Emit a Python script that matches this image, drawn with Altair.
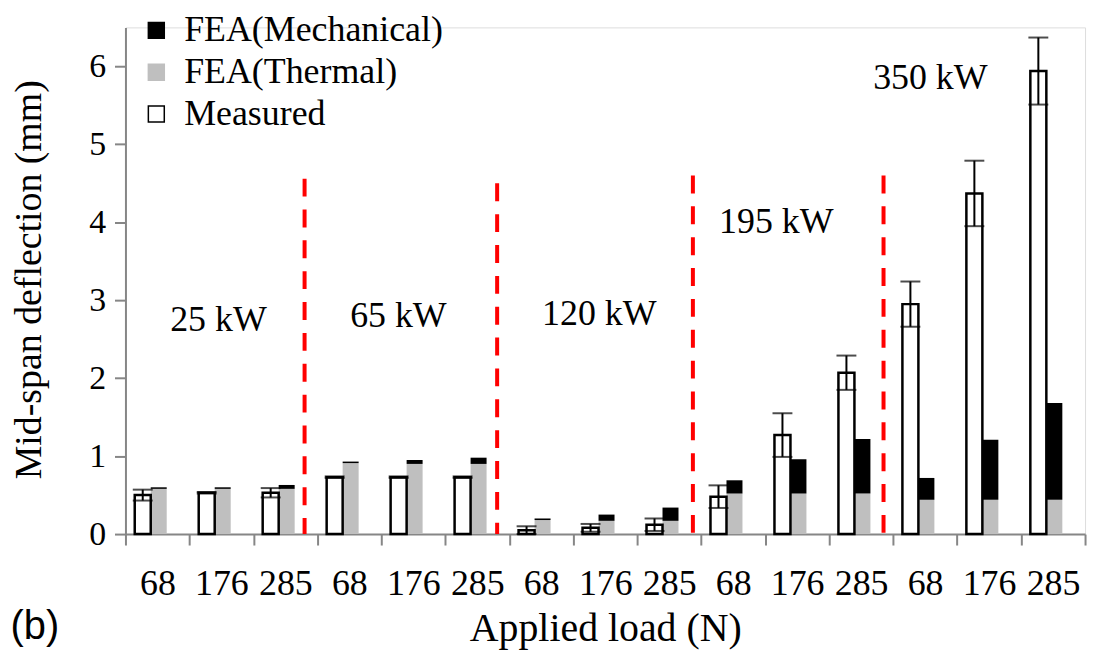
import altair as alt
import pandas as pd

powers = ["25 kW", "65 kW", "120 kW", "195 kW", "350 kW"]
loads = ["68", "176", "285"]
measured = [0.50, 0.53, 0.53, 0.73, 0.73, 0.73, 0.05, 0.08, 0.12, 0.48, 1.27, 2.07, 2.95, 4.37, 5.94]
measured_err = [0.07, 0.01, 0.06, 0.01, 0.01, 0.01, 0.05, 0.05, 0.08, 0.145, 0.28, 0.22, 0.29, 0.42, 0.43]
fea_thermal = [0.58, 0.58, 0.58, 0.91, 0.90, 0.90, 0.18, 0.17, 0.17, 0.52, 0.52, 0.52, 0.44, 0.44, 0.44]
fea_mech = [0.02, 0.02, 0.05, 0.02, 0.05, 0.08, 0.02, 0.08, 0.17, 0.17, 0.44, 0.70, 0.28, 0.77, 1.24]
divider_top = [4.56, 4.50, 4.60, 4.60]
label_y = [2.75, 2.80, 2.82, 4.0, 5.85]
label_dx = [-3, -15, -6, -21, -59]
series_names = ["FEA(Mechanical)", "FEA(Thermal)", "Measured"]

cats = [f"{p}|{l}" for p in powers for l in loads]

meas_df = pd.DataFrame({
    "cat": cats, "series": "Measured", "grp": "Measured", "value": measured,
    "lo": [m - e for m, e in zip(measured, measured_err)],
    "hi": [m + e for m, e in zip(measured, measured_err)],
})
rows = []
for c, t, m in zip(cats, fea_thermal, fea_mech):
    rows.append({"cat": c, "series": "FEA(Thermal)", "grp": "FEA", "value": t, "ord": 0})
    rows.append({"cat": c, "series": "FEA(Mechanical)", "grp": "FEA", "value": m, "ord": 1})
fea_df = pd.DataFrame(rows)
div_cats = [cats[2], cats[5], cats[8], cats[11]]
div_band = [0.80, 0.81, 0.87, 0.85]

SERIF = "Liberation Serif"
AX = "#868686"
x_scale = alt.Scale(domain=cats, paddingInner=0, paddingOuter=0)
x_axis = alt.Axis(tickBand="extent", labelAngle=0, labelExpr="split(datum.label, '|')[1]",
                  labelOverlap=False, labelFont=SERIF, labelFontSize=36, labelColor="black",
                  labelPadding=22, tickSize=11, tickColor=AX, tickWidth=2, domainColor=AX,
                  domainWidth=2, titleFont=SERIF, titleFontSize=40, titleFontWeight="normal",
                  titleColor="black", titleY=95, titleBaseline="middle")
y_scale = alt.Scale(domain=[0, 6.5], nice=False)
y_axis = alt.Axis(values=[0, 1, 2, 3, 4, 5, 6], grid=False, labelFont=SERIF, labelFontSize=34,
                  labelColor="black", labelPadding=9, tickSize=11, tickColor=AX, tickWidth=2,
                  domainColor=AX, domainWidth=2, titleFont=SERIF, titleFontSize=38,
                  titleFontWeight="normal", titleColor="black", titleX=-96, titleY=253,
                  titleAngle=-90, titleBaseline="middle", titleAlign="center", titleLimit=0)
XT = "Applied load (N)"
YT = "Mid-span deflection (mm)"


def X(band=None):
    if band is None:
        return alt.X("cat:N", sort=cats, scale=x_scale, axis=x_axis, title=XT)
    return alt.X("cat:N", sort=cats, scale=x_scale, axis=x_axis, title=XT, bandPosition=band)


def Y(field, **kw):
    return alt.Y(f"{field}:Q", scale=y_scale, axis=y_axis, title=YT, **kw)


off = alt.XOffset("grp:N", scale=alt.Scale(domain=["Measured", "FEA"], paddingInner=0,
                                            paddingOuter=1, align=0.29))
leg = alt.Legend(orient="none", legendX=13, legendY=-15, title=None, labelFont=SERIF,
                 labelFontSize=36, labelColor="black", symbolType="square", symbolSize=256,
                 symbolStrokeWidth=1.5, labelOffset=10, rowPadding=6, padding=0, labelLimit=0)
fill = alt.Fill("series:N", scale=alt.Scale(domain=series_names, range=["black", "#bfbfbf", "white"]), legend=leg)
stroke = alt.Stroke("series:N", scale=alt.Scale(domain=series_names, range=["black", "#bfbfbf", "black"]), legend=leg)

fea = alt.Chart(fea_df).mark_bar(strokeWidth=0).encode(
    x=X(), xOffset=off, y=Y("value", stack="zero"), fill=fill, stroke=stroke,
    order=alt.Order("ord:Q"))
meas = alt.Chart(meas_df).mark_bar(strokeWidth=2.5).encode(
    x=X(), xOffset=off, y=Y("value"), fill=fill, stroke=stroke)
err = alt.Chart(meas_df).mark_rule(color="black", strokeWidth=2).encode(
    x=X(), xOffset=off, y=Y("lo"), y2="hi")
cap_hi = alt.Chart(meas_df).mark_tick(color="black", thickness=2, size=20).encode(
    x=X(), xOffset=off, y=Y("hi"))
cap_lo = alt.Chart(meas_df).mark_tick(color="black", thickness=2, size=20).encode(
    x=X(), xOffset=off, y=Y("lo"))

layers = [fea, meas, err, cap_hi, cap_lo]
for c, top, bp in zip(div_cats, divider_top, div_band):
    ddf = pd.DataFrame({"cat": [c], "top": [top], "bottom": [0]})
    layers.append(alt.Chart(ddf).mark_rule(color="#ff0000", strokeWidth=4, strokeDash=[18, 13]).encode(
        x=X(bp), y=Y("top"), y2="bottom"))

for i, p in enumerate(powers):
    adf = pd.DataFrame({"cat": [cats[i * 3 + 1]], "y": [label_y[i]], "t": [p]})
    layers.append(alt.Chart(adf).mark_text(font=SERIF, fontSize=36, color="black", dx=label_dx[i],
                                           baseline="middle", align="center").encode(
        x=X(), y=Y("y"), text="t:N"))

blab = alt.Chart(pd.DataFrame({"t": ["(b)"]})).mark_text(
    font="Liberation Sans", fontSize=40, color="black", align="center", baseline="middle").encode(
    x=alt.value(-91), y=alt.value(602), text="t:N")
layers.append(blab)

chart = alt.layer(*layers).properties(
    width=964, height=509,
    padding={"left": 118, "top": 18, "right": 10, "bottom": 123},
    autosize=alt.AutoSizeParams(type="none"),
).configure_view(stroke=None).configure(background="white")

chart.save("out.html", embed_options={"renderer": "svg", "actions": False})
